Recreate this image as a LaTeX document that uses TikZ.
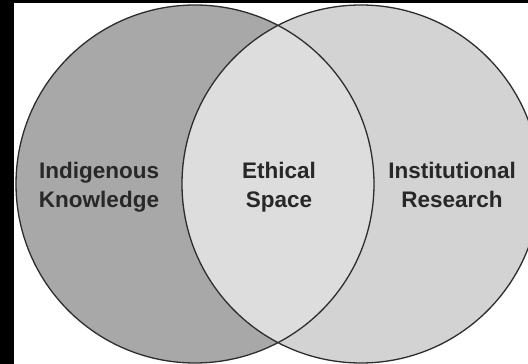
\documentclass[tikz,border=0pt]{standalone}
\usepackage{fontspec}
\newfontfamily\vennfont{Liberation Sans}
\usetikzlibrary{positioning}

\definecolor{ikgray}{RGB}{168,168,168}
\definecolor{irgray}{RGB}{211,211,211}
\definecolor{esgray}{RGB}{221,221,221}
\definecolor{rimgray}{RGB}{45,45,45}
\definecolor{textgray}{RGB}{40,40,40}

\begin{document}
\begin{tikzpicture}[x=1pt,y=1pt,
  setline/.style={draw=rimgray,line width=1.3pt},
  setlabel/.style={font=\vennfont\bfseries\fontsize{22.5}{29}\selectfont,
    text=textgray,align=center,anchor=north,inner sep=0pt}]
  \useasboundingbox (0,0) rectangle (528,364);
  \fill[black] (0,0) rectangle (528,364);
  \fill[white] (14,0) rectangle (528,361);
  \clip (14,0) rectangle (528,361);
  \coordinate (ikc) at (195,180);
  \coordinate (irc) at (361,180);
  \fill[ikgray] (ikc) circle (179pt);
  \fill[irgray] (irc) circle (179pt);
  \begin{scope}
    \clip (ikc) circle (179pt);
    \fill[esgray] (irc) circle (179pt);
  \end{scope}
  \draw[setline] (ikc) circle (179pt);
  \draw[setline] (irc) circle (179pt);
  \node[setlabel] (ik) at (99,202.5) {Indigenous\\Knowledge};
  \node[setlabel] (es) at (279,202.5) {Ethical\\Space};
  \node[setlabel] (ir) at (452,202.5) {Institutional\\Research};
\end{tikzpicture}
\end{document}
